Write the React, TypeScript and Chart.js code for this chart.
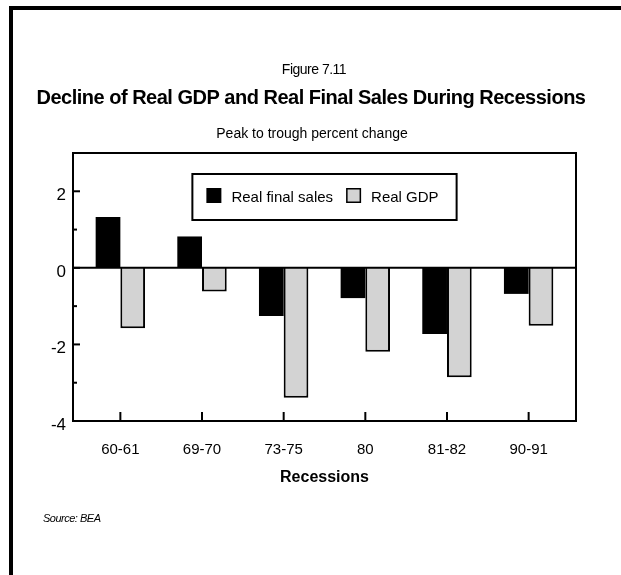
import React, { useEffect, useRef } from "react";
import { Chart, registerables } from "chart.js";

Chart.register(...registerables);

const CATEGORIES = ["60-61", "69-70", "73-75", "80", "81-82", "90-91"];
const REAL_FINAL_SALES = [1.33, 0.82, -1.26, -0.79, -1.73, -0.68];
const REAL_GDP = [-1.58, -0.62, -3.39, -2.19, -2.86, -1.51];
const SERIES_LABELS = ["Real final sales", "Real GDP"];
const Y_MIN = -4;
const Y_MAX = 3;

const FONT = "'Liberation Sans', Arial, sans-serif";
const GREY = "#d3d3d3";

const framePlugin = {
  id: "frameAndTicks",
  afterDatasetsDraw(chart: any) {
    const { ctx, chartArea: a, scales } = chart;
    const x = scales.x;
    const y = scales.y;
    ctx.save();
    ctx.strokeStyle = "#000";
    ctx.lineWidth = 2;
    ctx.strokeRect(a.left, a.top, a.right - a.left, a.bottom - a.top);
    const z = y.getPixelForValue(0);
    ctx.beginPath();
    ctx.moveTo(a.left, z);
    ctx.lineTo(a.right, z);
    ctx.stroke();
    for (let v = Y_MIN + 1; v < Y_MAX; v++) {
      const p = y.getPixelForValue(v);
      const len = v % 2 === 0 ? 7 : 4;
      ctx.beginPath();
      ctx.moveTo(a.left, p);
      ctx.lineTo(a.left + len, p);
      ctx.stroke();
    }
    x.ticks.forEach((_t: any, i: number) => {
      const p = x.getPixelForTick(i);
      ctx.beginPath();
      ctx.moveTo(p, a.bottom);
      ctx.lineTo(p, a.bottom - 9);
      ctx.stroke();
    });
    ctx.restore();
  },
};

const legendPlugin = {
  id: "boxedLegend",
  afterDraw(chart: any) {
    const { ctx, chartArea: a } = chart;
    const ds = chart.data.datasets;
    ctx.save();
    ctx.font = `15px ${FONT}`;
    const sq = 15;
    const padL = 14, padR = 18, padT = 14, padB = 17;
    const gapText = 10, gapItem = 13;
    const w0 = ctx.measureText(ds[0].label).width;
    const w1 = ctx.measureText(ds[1].label).width;
    const width = padL + sq + gapText + w0 + gapItem + sq + gapText + w1 + padR;
    const height = padT + sq + padB;
    const left = (a.left + a.right) / 2 - width / 2;
    const top = a.top + 21;
    ctx.strokeStyle = "#000";
    ctx.lineWidth = 2;
    ctx.strokeRect(left, top, width, height);
    let cx = left + padL;
    const sy = top + padT;
    ds.forEach((d: any, i: number) => {
      ctx.fillStyle = d.backgroundColor;
      ctx.fillRect(cx, sy, sq, sq);
      if (d.borderWidth) {
        ctx.lineWidth = 1.5;
        ctx.strokeStyle = "#000";
        ctx.strokeRect(cx + 0.75, sy + 0.75, sq - 1.5, sq - 1.5);
      }
      cx += sq + gapText;
      ctx.fillStyle = "#000";
      ctx.textBaseline = "middle";
      ctx.textAlign = "left";
      ctx.fillText(d.label, cx, sy + sq / 2 + 2);
      cx += (i === 0 ? w0 : w1) + gapItem;
    });
    ctx.restore();
  },
};

const textPlugin = {
  id: "headerText",
  afterDraw(chart: any) {
    const { ctx } = chart;
    const cx = 314;
    ctx.save();
    ctx.fillStyle = "#000";
    ctx.textAlign = "center";
    ctx.textBaseline = "middle";
    (ctx as any).letterSpacing = "-0.5px";
    ctx.font = `14px ${FONT}`;
    ctx.fillText("Figure 7.11", cx, 70);
    ctx.font = `bold 20px ${FONT}`;
    ctx.fillText("Decline of Real GDP and Real Final Sales During Recessions", 311, 98);
    (ctx as any).letterSpacing = "0px";
    ctx.font = `14px ${FONT}`;
    ctx.fillText("Peak to trough percent change", 312, 134);
    ctx.textAlign = "left";
    (ctx as any).letterSpacing = "-0.5px";
    ctx.font = `italic 11px ${FONT}`;
    ctx.fillText("Source: BEA", 43, 519);
    ctx.restore();
  },
};

export default function App() {
  const ref = useRef<HTMLCanvasElement | null>(null);
  useEffect(() => {
    if (!ref.current) return;
    const chart = new Chart(ref.current, {
      type: "bar",
      data: {
        datasets: [
          {
            label: SERIES_LABELS[0],
            data: CATEGORIES.map((_, i) => ({ x: i, y: REAL_FINAL_SALES[i] })),
            backgroundColor: "#000",
            borderColor: "#000",
            borderWidth: 0,
          },
          {
            label: SERIES_LABELS[1],
            data: CATEGORIES.map((_, i) => ({ x: i, y: REAL_GDP[i] })),
            backgroundColor: GREY,
            borderColor: "#000",
            borderWidth: 2,
          },
        ],
      },
      options: {
        responsive: false,
        animation: false,
        devicePixelRatio: 1,
        categoryPercentage: 0.605,
        barPercentage: 1,
        layout: { padding: { left: 0, right: 45, top: 153, bottom: 88 } },
        plugins: {
          legend: { display: false },
          title: { display: false },
          tooltip: { enabled: false },
        },
        scales: {
          x: {
            type: "linear",
            min: -0.58,
            max: 5.58,
            offset: false,
            grid: { display: false, drawTicks: false },
            border: { display: false },
            afterBuildTicks: (s: any) => {
              s.ticks = CATEGORIES.map((_, i) => ({ value: i }));
            },
            afterFit: (s: any) => {
              s.height = 66;
            },
            ticks: {
              autoSkip: false,
              maxRotation: 0,
              padding: 20,
              color: "#000",
              font: { family: FONT, size: 15 },
              callback: (v: any) => CATEGORIES[v] ?? "",
            },
            title: {
              display: true,
              text: "Recessions",
              color: "#000",
              font: { family: FONT, size: 16, weight: "bold" },
              padding: { top: 0, bottom: 0 },
            },
          },
          y: {
            min: Y_MIN,
            max: Y_MAX,
            grid: { display: false, drawTicks: false },
            border: { display: false },
            afterFit: (s: any) => {
              s.width = 73;
            },
            ticks: {
              stepSize: 1,
              padding: 7,
              labelOffset: 4,
              color: "#000",
              font: { family: FONT, size: 17 },
              callback: (v: any) => (v % 2 === 0 ? String(v) : ""),
            },
          },
        },
      },
      plugins: [framePlugin, legendPlugin, textPlugin],
    } as any);
    return () => chart.destroy();
  }, []);

  return (
    <div>
      <div
        style={{
          position: "fixed",
          left: 9,
          top: 6,
          width: 612,
          height: 569,
          borderTop: "4px solid #000",
          borderLeft: "4px solid #000",
          boxSizing: "border-box",
        }}
      />
      <canvas
        ref={ref}
        width={621}
        height={575}
        style={{ position: "fixed", left: 0, top: 0, width: 621, height: 575 }}
      />
    </div>
  );
}
